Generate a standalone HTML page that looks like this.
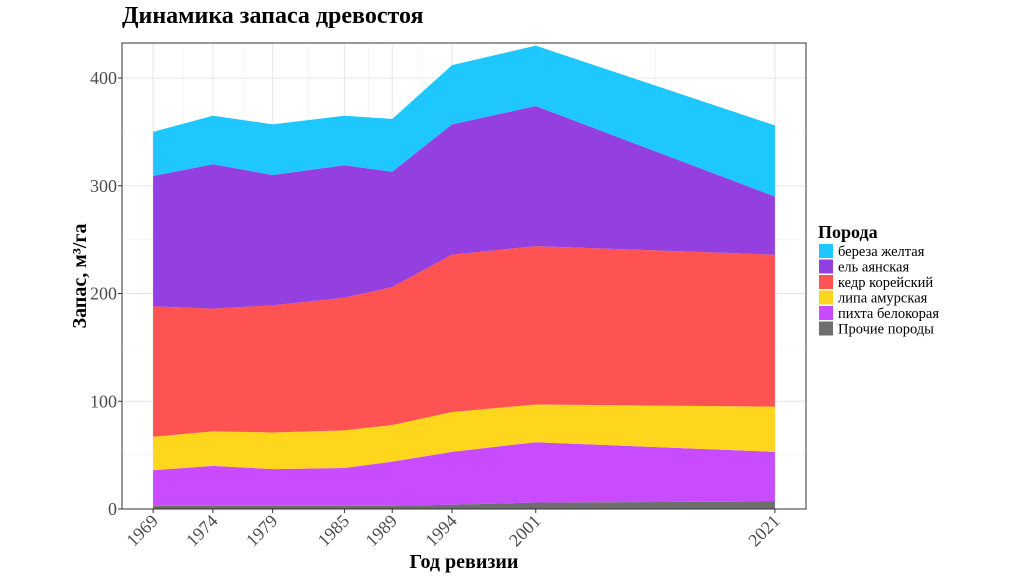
<!DOCTYPE html>
<html><head><meta charset="utf-8"><style>
body{margin:0;background:#fff;font-family:"Liberation Serif",serif}
</style></head><body>
<svg id="c" width="1024" height="574" xmlns="http://www.w3.org/2000/svg" font-family="Liberation Serif, serif"></svg>
<script>
const years=[1969,1974,1979,1985,1989,1994,2001,2021];
const seriesNames=["Прочие породы","пихта белокорая","липа амурская","кедр корейский","ель аянская","береза желтая"];
const prochie=[3,3,3,3,3,4,6,7];
const pikhta=[33,37,34,35,41,49,56,46];
const lipa=[31,32,34,35,34,37,35,42];
const kedr=[121,114,118,123,128,146,147,141];
const el=[121,134,121,123,107,121,130,54];
const bereza=[41,45,47,46,49,55,56,66];
const yTicks=[0,100,200,300,400];
const colors=["#6e6e6e","#c84bff","#ffd61e","#ff5252","#9440e0","#1ec8ff"];
const data=[prochie,pikhta,lipa,kedr,el,bereza];
const L=122,R=806,T=43,B=509;
const x=v=>L+(v-1966.4)/(2023.6-1966.4)*(R-L);
const y=v=>B-v*(431/400);
const s=document.getElementById('c');const NS="http://www.w3.org/2000/svg";
function mk(t,a,p){const e=document.createElementNS(NS,t);for(const k in a)e.setAttribute(k,a[k]);(p||s).appendChild(e);return e;}
let r=mk('rect',{x:L,y:T,width:R-L,height:B-T,fill:'#fff'});

for(let v=50;v<=450;v+=100){if(y(v)>T){let g=mk('line',{x1:L,x2:R,y1:y(v),y2:y(v),stroke:'#f0f0f0','stroke-width':0.6});}}
yTicks.forEach(v=>{let g=mk('line',{x1:L,x2:R,y1:y(v),y2:y(v),stroke:'#e6e6e6','stroke-width':1});});
for(let i=0;i<years.length-1;i++){let m=(years[i]+years[i+1])/2;let g=mk('line',{x1:x(m),x2:x(m),y1:T,y2:B,stroke:'#f0f0f0','stroke-width':0.6});}
years.forEach(v=>{let g=mk('line',{x1:x(v),x2:x(v),y1:T,y2:B,stroke:'#e6e6e6'});});
let base=years.map(()=>0);
data.forEach((ser,k)=>{const top=ser.map((v,i)=>base[i]+v);
let d='M'+years.map((yr,i)=>x(yr)+','+y(top[i])).join('L');
for(let i=years.length-1;i>=0;i--)d+='L'+x(years[i])+','+y(base[i]);
let p=mk('path',{d:d+'Z',fill:colors[k]});

base=top;});
let bd=mk('rect',{x:L,y:T,width:R-L,height:B-T,fill:'none',stroke:'#333','stroke-width':1});

yTicks.forEach(v=>{let t=mk('line',{x1:L-4,x2:L,y1:y(v),y2:y(v),stroke:'#333'});
let tx=mk('text',{x:L-5,y:y(v)+6,'text-anchor':'end','font-size':18,fill:'#4d4d4d'});tx.textContent=v;});
years.forEach(v=>{let t=mk('line',{x1:x(v),x2:x(v),y1:B,y2:B+4,stroke:'#333'});
let tx=mk('text',{x:x(v)+6,y:B+13,'text-anchor':'end','font-size':18,fill:'#4d4d4d',transform:'rotate(-45 '+(x(v)+6)+' '+(B+13)+')'});tx.textContent=v;});
let ti=mk('text',{x:122,y:23,'font-size':24,'font-weight':'bold',fill:'#000'});ti.textContent='Динамика запаса древостоя';
let xt=mk('text',{x:464,y:568,'text-anchor':'middle','font-size':20,'font-weight':'bold'});xt.textContent='Год ревизии';
let yt=mk('text',{x:86,y:276,'text-anchor':'middle','font-size':20,'font-weight':'bold',transform:'rotate(-90 86 276)'});yt.textContent='Запас, м³/га';
let lt=mk('text',{x:818,y:238,'font-size':18,'font-weight':'bold'});lt.textContent='Порода';
for(let k=5;k>=0;k--){const i=5-k;const yy=244+i*15.5;
let g=mk('g',{});
mk('rect',{x:819,y:yy,width:14,height:14,fill:colors[k]},g);
let t=mk('text',{x:838,y:yy+12,'font-size':14.5},g);t.textContent=seriesNames[k];}
</script>
</body></html>
